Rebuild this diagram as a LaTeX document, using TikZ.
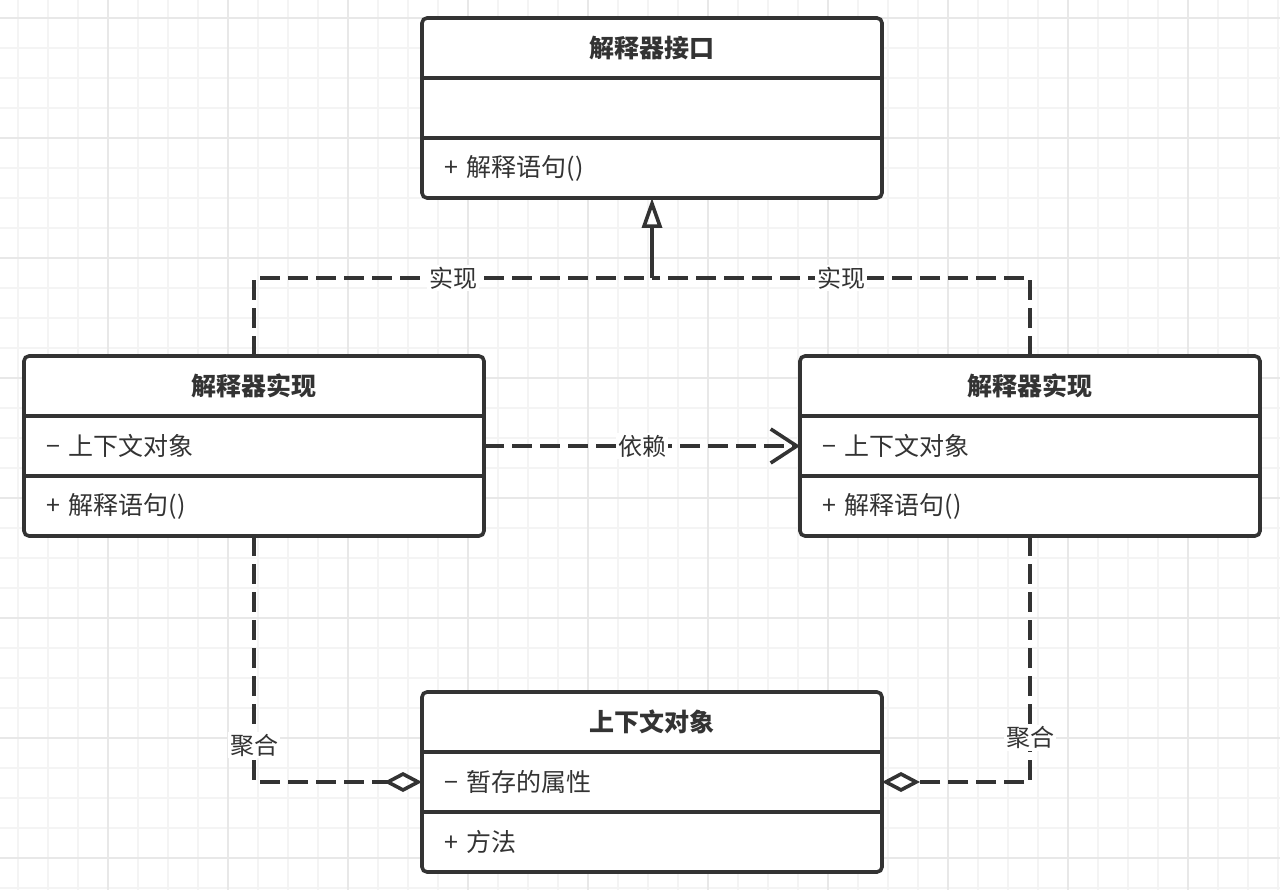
\documentclass[tikz,border=0pt]{standalone}
\usepackage{fontspec}
\setmainfont{Noto Sans CJK SC}
\usetikzlibrary{arrows.meta,calc}
\definecolor{umlline}{HTML}{333333}
\definecolor{gridminor}{HTML}{F4F4F4}
\definecolor{gridmajor}{HTML}{E8E8E8}

\tikzset{
  classbox/.style={draw=umlline, line width=3.6pt, rounded corners=5pt, fill=white,
    minimum width=460pt, minimum height=180pt, inner sep=0pt, outer sep=0pt},
  classline/.style={draw=umlline, line width=3.6pt},
  titletext/.style={text=umlline, font=\fontsize{25}{30}\selectfont\bfseries, inner sep=0pt},
  rowtext/.style={text=umlline, font=\fontsize{25}{30}\selectfont, anchor=west, inner sep=0pt},
  lbl/.style={text=umlline, font=\fontsize{24}{28}\selectfont, fill=white, inner sep=2pt},
  dep/.style={draw=umlline, line width=3.6pt, dash pattern=on 20pt off 8pt},
  real/.style={draw=umlline, line width=3.6pt}
}

% name, left, top, title, attribute row, operation row
\newcommand\umlclass[6]{%
  \node[classbox, anchor=north west] (#1) at (#2,#3) {};
  \draw[classline] ($(#1.north west)+(0,60)$) -- ($(#1.north east)+(0,60)$);
  \draw[classline] ($(#1.north west)+(0,120)$) -- ($(#1.north east)+(0,120)$);
  \node[titletext] (#1-title) at ($(#1.north)+(0,30)$) {#4};
  \node[rowtext] (#1-attr) at ($(#1.north west)+(22,90)$) {#5};
  \node[rowtext] (#1-op) at ($(#1.north west)+(22,150)$) {#6};
}

\begin{document}
\begin{tikzpicture}[x=1pt, y=-1pt]
  \useasboundingbox[fill=white] (0,0) rectangle (1280,890);

  %%% grid
  \foreach \gx in {18,48,...,1278} \draw[gridminor, line width=1.5pt] (\gx,0) -- (\gx,890);
  \foreach \gy in {18,48,...,888} \draw[gridminor, line width=1.5pt] (0,\gy) -- (1280,\gy);
  \foreach \gx in {108,228,...,1188} \draw[gridmajor, line width=1.5pt] (\gx,0) -- (\gx,890);
  \foreach \gy in {18,138,...,858} \draw[gridmajor, line width=1.5pt] (0,\gy) -- (1280,\gy);

  %%% classes
  \umlclass{iface}{422}{18}{解释器接口}{}{+\hspace{3pt} 解释语句()}
  \umlclass{implL}{24}{356}{解释器实现}{−\hspace{3pt} 上下文对象}{+\hspace{3pt} 解释语句()}
  \umlclass{implR}{800}{356}{解释器实现}{−\hspace{3pt} 上下文对象}{+\hspace{3pt} 解释语句()}
  \umlclass{ctx}{422}{692}{上下文对象}{−\hspace{3pt} 暂存的属性}{+\hspace{3pt} 方法}

  %%% realisation
  \coordinate (join) at (iface.south |- 0,278);
  \draw[dep] (implL.north) |- (join);
  \draw[dep] (implR.north) |- (join);
  \draw[real, -{Triangle[open, length=30pt, width=20pt]}] (join) -- (iface.south);
  \node[lbl] (realL) at ($(implL.north |- join)!.5!(join)$) {实现};
  \node[lbl] (realR) at ($(implR.north |- join)!.5!(join)$) {实现};

  %%% dependency
  \draw[dep, -{Straight Barb[length=26pt, width=34pt]}] (implL.east |- implL-attr)
    -- node[lbl] (uses) {依赖} (implR.west |- implR-attr);

  %%% aggregation
  \draw[dep, -{Diamond[open, length=38pt, width=20pt]}] (implL.south)
    |- node[lbl, pos=.425] (aggL) {聚合} (ctx.west |- ctx-attr);
  \draw[dep, -{Diamond[open, length=38pt, width=20pt]}] (implR.south)
    |- node[lbl, pos=.41] (aggR) {聚合} (ctx.east |- ctx-attr);
\end{tikzpicture}
\end{document}
